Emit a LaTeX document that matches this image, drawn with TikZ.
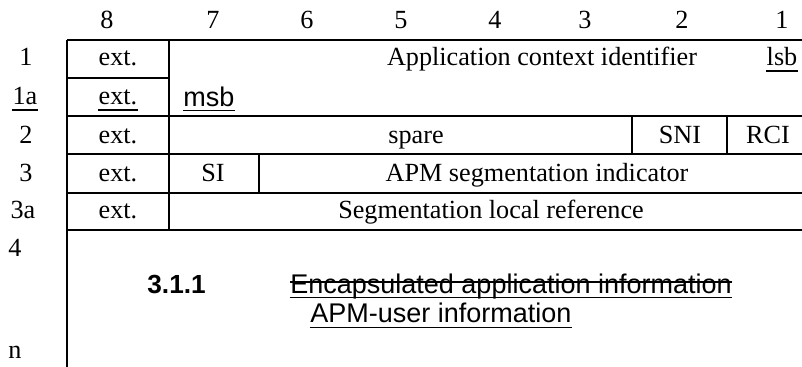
\documentclass[tikz,border=0pt]{standalone}
\usepackage{fontspec}
\setmainfont{Liberation Serif}
\newfontfamily\arialfont{Liberation Sans}
\begin{document}
\begin{tikzpicture}[x=0.5pt,y=-0.5pt,
  txt/.style={inner sep=0pt,anchor=base,font=\fontsize{13.1}{15}\selectfont},
  stxt/.style={inner sep=0pt,anchor=base,font=\fontsize{13.5}{15}\selectfont\arialfont},
  grid/.style={line width=1pt},
  uline/.style={line width=0.7pt}]
\useasboundingbox (0,0) rectangle (802,367);
% grid lines
\draw[grid] (67,40) -- (802,40);
\draw[grid] (67,78) -- (169,78);
\draw[grid] (67,116) -- (802,116);
\draw[grid] (67,154) -- (802,154);
\draw[grid] (67,193) -- (802,193);
\draw[grid] (67,230) -- (802,230);
\draw[grid] (67,40) -- (67,367);
\draw[grid] (169,40) -- (169,230);
\draw[grid] (259,154) -- (259,193);
\draw[grid] (632,116) -- (632,154);
\draw[grid] (727,116) -- (727,154);
% header
\node[txt] (h8) at (107,29) {8};
\node[txt] (h7) at (213,29) {7};
\node[txt] (h6) at (307,29) {6};
\node[txt] (h5) at (401,29) {5};
\node[txt] (h4) at (495,29) {4};
\node[txt] (h3) at (585,29) {3};
\node[txt] (h2) at (682,29) {2};
\node[txt] (h1) at (782,29) {1};
% row labels
\node[txt] (r1) at (26,66) {1};
\node[txt] (r1a) at (25,105) {1a};
\draw[uline] ([yshift=-2.5pt]r1a.base west) -- ([yshift=-2.5pt]r1a.base east);
\node[txt] (r2) at (26,144) {2};
\node[txt] (r3) at (26,182) {3};
\node[txt] (r3a) at (23,219) {3a};
\node[txt,anchor=base west] (r4) at (8,257) {4};
\node[txt,anchor=base west] (rn) at (8,359) {n};
% cells
\node[txt] (e1) at (118,66) {ext.};
\node[txt] (e1a) at (118,105) {ext.};
\draw[uline] ([yshift=-2.5pt]e1a.base west) -- ([yshift=-2.5pt]e1a.base east);
\node[txt] (e2) at (118,144) {ext.};
\node[txt] (e3) at (118,182) {ext.};
\node[txt] (e3a) at (118,219) {ext.};
\node[txt] (aci) at (542,66) {Application context identifier};
\node[txt] (lsb) at (782,66) {lsb};
\draw[uline] ([yshift=-2.5pt]lsb.base west) -- ([yshift=-2.5pt]lsb.base east);
\node[stxt,anchor=base west] (msb) at (183,107) {msb};
\draw[uline] ([yshift=-1.8pt]msb.base west) -- ([yshift=-1.8pt]msb.base east);
\node[txt] (spare) at (416,144) {spare};
\node[txt] (sni) at (680,144) {SNI};
\node[txt] (rci) at (768,144) {RCI};
\node[txt] (si) at (213,182) {SI};
\node[txt] (apm) at (537,182) {APM segmentation indicator};
\node[txt] (slr) at (491,219) {Segmentation local reference};
% bottom text
\node[stxt,anchor=base west,font=\fontsize{13.1}{15}\selectfont\arialfont\bfseries] (num) at (147,294) {3.1.1};
\node[stxt,anchor=base west] (enc) at (290,294) {Encapsulated application information};
\draw[uline] ([yshift=6pt]enc.base west) -- ([yshift=6pt]enc.base east);
\draw[uline] ([yshift=-1.8pt]enc.base west) -- ([yshift=-1.8pt]enc.base east);
\node[stxt,anchor=base west] (apmu) at (310,323) {APM-user information};
\draw[uline] ([yshift=-2.2pt]apmu.base west) -- ([yshift=-2.2pt]apmu.base east);
\end{tikzpicture}
\end{document}
